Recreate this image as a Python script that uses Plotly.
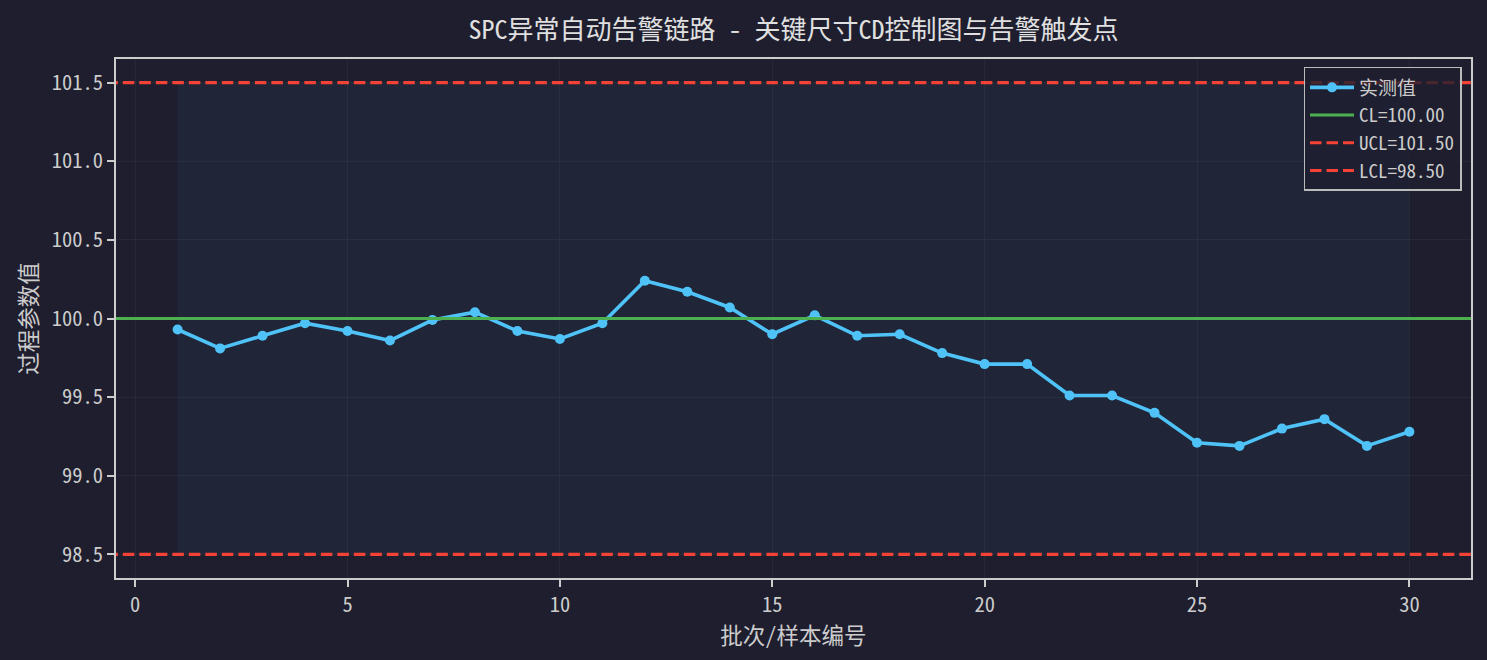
import plotly.graph_objects as go

# ---- data ----
samples = list(range(1, 31))
measured = [99.93, 99.81, 99.89, 99.97, 99.92, 99.86, 99.99, 100.04, 99.92, 99.87,
            99.97, 100.24, 100.17, 100.07, 99.90, 100.02, 99.89, 99.90, 99.78, 99.71,
            99.71, 99.51, 99.51, 99.40, 99.21, 99.19, 99.30, 99.36, 99.19, 99.28]
CL = 100.00
UCL = 101.50
LCL = 98.50
x_ticks = [0, 5, 10, 15, 20, 25, 30]
y_ticks = [98.5, 99.0, 99.5, 100.0, 100.5, 101.0, 101.5]

title_text = "SPC异常自动告警链路 - 关键尺寸CD控制图与告警触发点"
x_label = "批次/样本编号"
y_label = "过程参数值"

FONT = "Noto Sans Mono CJK SC, Noto Sans CJK SC, sans-serif"
BG = "#1e1e2e"
FG = "#cccccc"
GRID = "rgba(255,255,255,0.045)"

fig = go.Figure()

x_min, x_max = samples[0], samples[-1]

fig.add_trace(go.Scatter(
    x=samples, y=measured, mode="lines+markers", name="实测值",
    line=dict(color="#4fc3f7", width=3.6),
    marker=dict(color="#4fc3f7", size=10),
    legendgroup="a",
))
fig.add_trace(go.Scatter(
    x=[-10, 50], y=[CL, CL], mode="lines", name=f"CL={CL:.2f}",
    line=dict(color="#4caf50", width=3.1), legendgroup="b",
))
fig.add_trace(go.Scatter(
    x=[-10, 50], y=[UCL, UCL], mode="lines", name=f"UCL={UCL:.2f}",
    line=dict(color="#f44336", width=3.1, dash="11.5px,5px"), legendgroup="c",
))
fig.add_trace(go.Scatter(
    x=[-10, 50], y=[LCL, LCL], mode="lines", name=f"LCL={LCL:.2f}",
    line=dict(color="#f44336", width=3.1, dash="11.5px,5px"), legendgroup="d",
))

fig.add_shape(type="rect", x0=x_min, x1=x_max, y0=LCL, y1=UCL,
              xref="x", yref="y", fillcolor="rgba(79,195,247,0.05)",
              line=dict(width=0), layer="below")

axis_common = dict(
    showline=True, linecolor=FG, linewidth=2, mirror=True,
    ticks="outside", ticklen=7, tickwidth=2, tickcolor=FG,
    showgrid=True, gridcolor=GRID, gridwidth=1.2, zeroline=False,
    tickfont=dict(family=FONT, size=20.5, color=FG),
)

fig.update_layout(
    width=1487, height=660,
    paper_bgcolor=BG, plot_bgcolor=BG,
    margin=dict(l=116, r=16, t=59, b=82),
    font=dict(family=FONT, color=FG),
    title=dict(text=title_text, x=0.5, xref="paper", y=1 - 30 / 660,
               yref="container", yanchor="middle", xanchor="center",
               font=dict(family=FONT, size=26, color="#e0e0e0")),
    xaxis=dict(range=[-0.45, 31.45], tickvals=x_ticks,
               title=dict(text=x_label, font=dict(family=FONT, size=22.5, color=FG), standoff=2),
               **axis_common),
    yaxis=dict(range=[98.35, 101.65], tickvals=y_ticks, tickformat=".1f",
               title=dict(text=y_label, font=dict(family=FONT, size=22.5, color=FG), standoff=8),
               **axis_common),
    legend=dict(x=0.993, y=0.9846, xanchor="right", yanchor="top",
                bgcolor="rgba(30,30,46,0.8)", bordercolor="#bbbbbb", borderwidth=1.5,
                font=dict(family=FONT, size=19, color=FG),
                itemwidth=44, tracegroupgap=3, traceorder="normal"),
    showlegend=True,
)

fig.write_html("out.html",
               config={"displayModeBar": False},
               post_script="document.body.style.margin='0';document.body.style.background='#1e1e2e';")
